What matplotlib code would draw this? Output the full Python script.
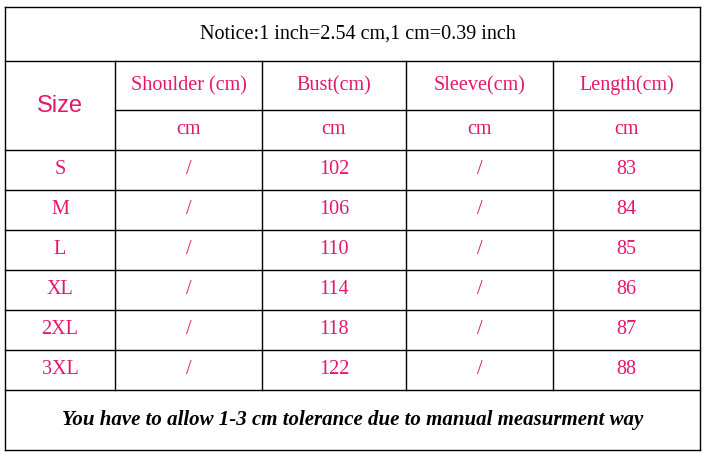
import matplotlib.pyplot as plt
from matplotlib.lines import Line2D

notice = "Notice:1 inch=2.54 cm,1 cm=0.39 inch"
headers = ["Shoulder (cm)", "Bust(cm)", "Sleeve(cm)", "Length(cm)"]
units = ["cm", "cm", "cm", "cm"]
sizes = ["S", "M", "L", "XL", "2XL", "3XL"]
shoulder = ["/", "/", "/", "/", "/", "/"]
bust = [102, 106, 110, 114, 118, 122]
sleeve = ["/", "/", "/", "/", "/", "/"]
length = [83, 84, 85, 86, 87, 88]
footer = "You have to allow 1-3 cm tolerance due to manual measurment way"

W, H = 706, 453
PINK = "#e5176b"
cols = [5, 115, 262, 406, 553, 700]
rows = [7, 61, 110, 150, 190, 230, 270, 310, 350, 390, 450]

fig = plt.figure(figsize=(W / 100, H / 100), dpi=100)
ax = fig.add_axes([0, 0, 1, 1])
ax.set_xlim(0, W)
ax.set_ylim(H, 0)
ax.axis("off")
plt.rcParams["font.family"] = ["Liberation Serif", "DejaVu Serif"]


def hline(y, x0, x1):
    ax.add_line(Line2D([x0, x1], [y, y], color="black", lw=1))


def vline(x, y0, y1):
    ax.add_line(Line2D([x, x], [y0, y1], color="black", lw=1))


# outer border and grid; the Size header spans two rows
for j, y in enumerate(rows):
    hline(y, cols[1] if j == 2 else cols[0], cols[-1])
vline(cols[0], rows[0], rows[-1])
vline(cols[-1], rows[0], rows[-1])
for x in cols[1:-1]:
    vline(x, rows[1], rows[-2])


def cx(i):
    return (cols[i] + cols[i + 1]) / 2


def cy(j):
    return (rows[j] + rows[j + 1]) / 2


ax.text(W / 2 + 5, cy(0), notice, ha="center", va="center", fontsize=14.5, color="black")
ax.text(cx(0), (rows[1] + rows[3]) / 2, "Size", ha="center", va="center",
        fontsize=17, color=PINK, family=["Liberation Sans", "DejaVu Sans"])
for i, (h, u) in enumerate(zip(headers, units)):
    ax.text(cx(i + 1), cy(1), h, ha="center", va="center", fontsize=14.5, color=PINK)
    ax.text(cx(i + 1), cy(2), u, ha="center", va="center", fontsize=14.5, color=PINK)

for r, vals in enumerate(zip(sizes, shoulder, bust, sleeve, length)):
    for i, v in enumerate(vals):
        ax.text(cx(i), cy(r + 3), str(v), ha="center", va="center", fontsize=14.5, color=PINK)

ax.text(W / 2, cy(9), footer, ha="center", va="center", fontsize=15,
        fontweight="bold", fontstyle="italic", color="black")

fig.savefig("out.png", dpi=100, facecolor="white")
